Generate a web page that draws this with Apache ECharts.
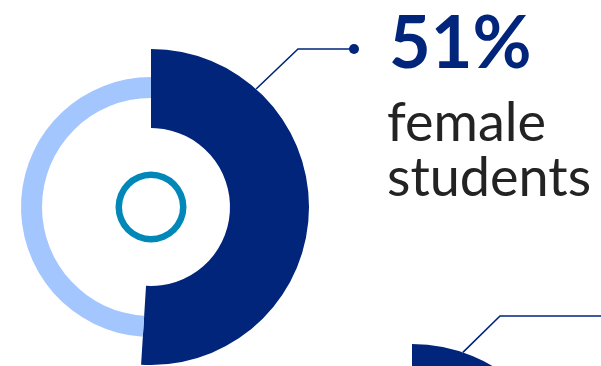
<!DOCTYPE html>
<html>
<head>
<meta charset="utf-8">
<script src="https://cdn.jsdelivr.net/npm/echarts@6/dist/echarts.min.js"></script>
<style>
  html, body { margin: 0; padding: 0; background: #fff; }
  #chart { width: 601px; height: 366px; }
</style>
</head>
<body>
<div id="chart"></div>
<script>
// Student gender split (percent)
const categories = ['female', 'male'];
const shares = [51, 49];
// Next panel's donut, only its top edge shows at the bottom of the frame
const nextShares = [49, 51];
const headline = '51%';
const captionLines = ['female', 'students'];

const NAVY = '#00257A';
const LIGHT = '#A4C6FF';
const TEAL = '#0288B8';

const chart = echarts.init(document.getElementById('chart'), null, { renderer: 'canvas' });

const C1 = [151, 207];
const C2 = [412, 502];
const R_DARK = [79, 158];
const R_LIGHT = [109, 130];

// point on a donut's outer rim, angle measured clockwise from 12 o'clock
function rim(c, r, deg) {
  const a = deg * Math.PI / 180;
  return [c[0] + r * Math.sin(a), c[1] - r * Math.cos(a)];
}

function donut(center, values, showLight) {
  const base = {
    type: 'pie', center: center, startAngle: 90, clockwise: true,
    silent: true, animation: false, label: { show: false }, labelLine: { show: false },
    emphasis: { disabled: true }
  };
  const out = [Object.assign({}, base, {
    radius: R_DARK,
    data: [
      { name: categories[0], value: values[0], itemStyle: { color: NAVY } },
      { name: categories[1], value: values[1], itemStyle: { color: 'rgba(0,0,0,0)' } }
    ]
  })];
  if (showLight) {
    out.push(Object.assign({}, base, {
      radius: R_LIGHT,
      data: [
        { name: categories[0], value: values[0], itemStyle: { color: 'rgba(0,0,0,0)' } },
        { name: categories[1], value: values[1], itemStyle: { color: LIGHT } }
      ]
    }));
    out.push(Object.assign({}, base, {
      radius: [29, 35.5],
      data: [{ name: 'core', value: 1, itemStyle: { color: TEAL } }]
    }));
  }
  return out;
}

const p1 = rim(C1, R_DARK[1], 41.7);
const k1 = [298, 49];
const d1 = [354, 49];
const p2 = rim(C2, R_DARK[1], 18.8);
const k2 = [500, 316];

chart.setOption({
  backgroundColor: '#fff',
  series: [].concat(donut(C1, shares, true), donut(C2, nextShares, false)),
  graphic: [
    { type: 'polyline', shape: { points: [p1, k1, d1] }, style: { stroke: NAVY, lineWidth: 1.6, fill: null }, z: 10 },
    { type: 'circle', shape: { cx: d1[0], cy: d1[1], r: 5 }, style: { fill: NAVY }, z: 10 },
    { type: 'polyline', shape: { points: [p2, k2, [601, 316]] }, style: { stroke: NAVY, lineWidth: 1.6, fill: null }, z: 10 },
    { type: 'text', left: 389, top: 9, style: { text: headline, fill: NAVY, font: 'bold 72px Lato' }, z: 10 },
    { type: 'text', left: 387, top: 97, style: { text: captionLines[0], fill: '#232323', font: '54px Lato' }, z: 10 },
    { type: 'text', left: 387, top: 152, style: { text: captionLines[1], fill: '#232323', font: '54px Lato' }, z: 10 }
  ]
});
</script>
</body>
</html>
